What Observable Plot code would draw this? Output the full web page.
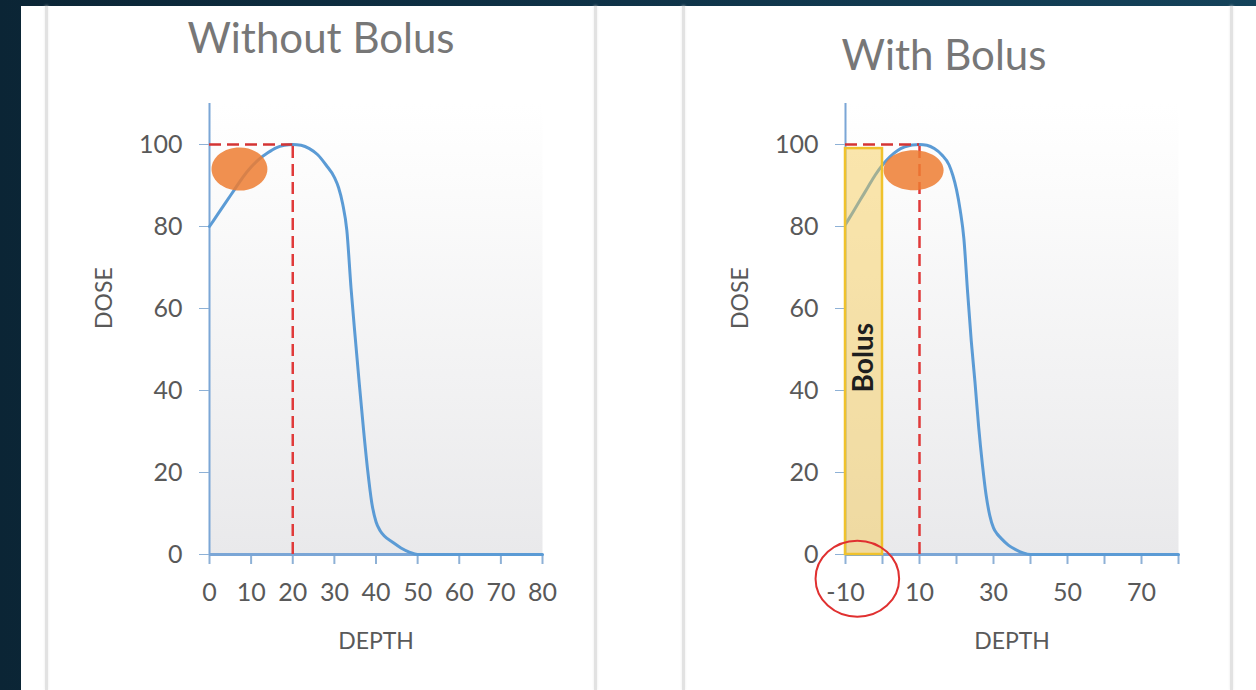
<!DOCTYPE html>
<html><head><meta charset="utf-8">
<script src="https://cdn.jsdelivr.net/npm/d3@7"></script>
<script src="https://cdn.jsdelivr.net/npm/@observablehq/plot@0.6"></script>
<style>
html,body{margin:0;padding:0;}
body{width:1256px;height:690px;overflow:hidden;position:relative;background:linear-gradient(90deg,#0b2535 0%,#0f3348 50%,#14425a 100%);font-family:Lato,"Open Sans",sans-serif;}
#sheet{position:absolute;left:21px;top:6px;right:0;bottom:0;background:#fff;}
.sep{position:absolute;top:6px;bottom:0;width:3px;background:#e2e2e2;box-shadow:0 0 3px #ececec;z-index:3;}
.panel{position:absolute;top:0;z-index:2;}
</style></head><body>
<div id="sheet"></div>
<div id="left" class="panel" style="left:46px"></div>
<div id="right" class="panel" style="left:683px"></div>
<div class="sep" style="left:45px"></div>
<div class="sep" style="left:594px"></div>
<div class="sep" style="left:682px"></div>
<div class="sep" style="left:1230px"></div>
<script>
// ---- data ----
const titles = ["Without Bolus", "With Bolus"];
const xAxisLabel = "DEPTH";
const yAxisLabel = "DOSE";
const doseTicks = [0, 20, 40, 60, 80, 100];
const leftDepthTicks = [0, 10, 20, 30, 40, 50, 60, 70, 80];
const rightDepthTicks = [-10, 0, 10, 20, 30, 40, 50, 60, 70, 80];
const rightDepthLabels = [-10, 10, 30, 50, 70];

const leftDepth = [0, 2, 4, 6, 8, 10, 12, 14, 16, 18, 20, 22, 24, 26, 28, 30, 31, 32, 33, 34, 35, 36, 37, 38, 39, 40, 41, 42, 44, 46, 48, 50, 60, 70, 80];
const leftDose  = [80, 83, 86, 89, 92, 94.5, 96.5, 98, 99.2, 99.8, 100, 99.8, 99, 97.5, 95, 92, 89.5, 85.5, 79, 65, 53, 41.5, 30.5, 20.5, 12.5, 8, 5.8, 4.5, 3, 1.6, 0.6, 0, 0, 0, 0];

const rightDepth = [-10, -8, -6, -4, -2, 0, 2, 4, 6, 8, 10, 12, 14, 16, 18, 19, 20, 21, 22, 23, 24, 25, 26, 27, 28, 29, 30, 31, 32, 34, 36, 38, 40, 50, 60, 70, 80];
const rightDose  = [80.5, 83.5, 86.5, 89.5, 92.5, 95, 97, 98.5, 99.4, 99.9, 100, 99.8, 99, 97.5, 95, 92.5, 89, 84, 77, 64, 52, 42, 31, 22, 14.5, 9.5, 6.5, 5, 4, 2.3, 1.2, 0.4, 0, 0, 0, 0, 0];

const peakDepth = [20, 10];          // depth of maximum dose
const peakDose = [100, 100];
const hotspotDepth = [7.2, 8.4];     // orange highlight
const hotspotDose = [94, 93.7];
const bolusFrom = [-10], bolusTo = [0], bolusTop = [99];
const bolusLabel = ["Bolus"], bolusLabelDepth = [-5], bolusLabelDose = [48];
const surfaceDepth = [-6.8], surfaceDose = [-5.9];  // red circle

// ---- helpers ----
function ellipseSymbol(aspect) {
  return {
    draw(ctx, size) {
      const r = Math.sqrt(size / Math.PI), a = r * aspect, b = r, k = 0.5522847;
      ctx.moveTo(a, 0);
      ctx.bezierCurveTo(a, b * k, a * k, b, 0, b);
      ctx.bezierCurveTo(-a * k, b, -a, b * k, -a, 0);
      ctx.bezierCurveTo(-a, -b * k, -a * k, -b, 0, -b);
      ctx.bezierCurveTo(a * k, -b, a, -b * k, a, 0);
      ctx.closePath();
    }
  };
}
const axisColor = "#7ba6d6", tickColor = "#8eb1d6", labelColor = "#595959";

function chart(i, {depth, dose, xDomain, xTicks, xLabels, width, marginLeft, marginRight, titleDx, titleDy, hotR, hotAspect, extra = []}) {
  const pts = depth.map((d, j) => ({depth: d, dose: dose[j]}));
  const peak = [{depth: peakDepth[i], dose: peakDose[i]}];
  const hot = [{depth: hotspotDepth[i], dose: hotspotDose[i]}];
  const gid = "bg" + i;
  const svg = Plot.plot({
    width, height: 690,
    marginTop: 103, marginBottom: 136, marginLeft, marginRight,
    x: {domain: xDomain, label: null},
    y: {domain: [0, 110], label: null},
    style: {fontFamily: "Lato, 'Open Sans', sans-serif", background: "transparent", overflow: "visible", maxWidth: "none"},
    marks: [
      Plot.frame({fill: `url(#${gid})`, stroke: "none"}),
      Plot.ruleX([xDomain[0]], {y1: 0, y2: 110, stroke: axisColor, strokeWidth: 2}),
      Plot.axisY({ticks: doseTicks, label: null, tickSize: 10, tickPadding: 17, stroke: tickColor, fill: labelColor, fontSize: 25, tickFormat: d => String(d)}),
      Plot.axisX({ticks: xTicks, label: null, tickSize: 10, tickPadding: 19, stroke: tickColor, strokeWidth: 2, fill: labelColor, fontSize: 25, tickFormat: d => xLabels.includes(d) ? String(d) : ""}),
      Plot.ruleY([0], {x1: xDomain[0], x2: xDomain[1], stroke: axisColor, strokeWidth: 3}),
      Plot.line(pts, {x: "depth", y: "dose", stroke: "#5b9bd5", strokeWidth: 3, curve: "monotone-x"}),
      Plot.ruleY(peak, {y: "dose", x1: xDomain[0], x2: "depth", stroke: "#d43434", strokeWidth: 2.5, strokeDasharray: "12,6"}),
      Plot.ruleX(peak, {x: "depth", y1: 0, y2: "dose", stroke: "#e03a3a", strokeWidth: 2.5, strokeDasharray: "12,6"}),
      Plot.dot(hot, {x: "depth", y: "dose", r: hotR, symbol: ellipseSymbol(hotAspect), fill: "#ed7d31", fillOpacity: 0.85, stroke: "none"}),
      ...extra,
      Plot.text([titles[i]], {frameAnchor: "top", dx: titleDx, dy: titleDy, fontSize: 42, fill: "#777777", lineAnchor: "middle"}),
      Plot.text([yAxisLabel], {frameAnchor: "left", dx: -105, rotate: -90, fontSize: 23, fill: labelColor, lineAnchor: "middle"}),
      Plot.text([xAxisLabel], {frameAnchor: "bottom", dy: 87, fontSize: 23, fill: labelColor, lineAnchor: "middle"})
    ]
  });
  d3.select(svg).insert("defs", ":first-child").html(
    `<linearGradient id="${gid}" x1="0" y1="0" x2="0" y2="1">
       <stop offset="0" stop-color="#ffffff"/>
       <stop offset="0.2" stop-color="#fbfbfb"/>
       <stop offset="1" stop-color="#e9e9eb"/>
     </linearGradient>`);
  return svg;
}

document.getElementById("left").appendChild(chart(0, {
  depth: leftDepth, dose: leftDose, xDomain: [0, 80], xTicks: leftDepthTicks, xLabels: leftDepthTicks,
  width: 549, marginLeft: 163, marginRight: 53, titleDx: -55, titleDy: -64, hotR: 21.5, hotAspect: 1.3
}));

const bolus = bolusFrom.map((d, j) => ({from: d, to: bolusTo[j], top: bolusTop[j]}));
const bolusText = bolusLabel.map((t, j) => ({t, depth: bolusLabelDepth[j], dose: bolusLabelDose[j]}));
const surface = surfaceDepth.map((d, j) => ({depth: d, dose: surfaceDose[j]}));

document.getElementById("right").appendChild(chart(1, {
  depth: rightDepth, dose: rightDose, xDomain: [-10, 80], xTicks: rightDepthTicks, xLabels: rightDepthLabels,
  width: 548, marginLeft: 162, marginRight: 53, titleDx: -68, titleDy: -47, hotR: 20, hotAspect: 1.5,
  extra: [
    Plot.rectY(bolus, {x1: "from", x2: "to", y1: 0, y2: "top", fill: "#f6c84a", fillOpacity: 0.45, stroke: "#f0c22c", strokeWidth: 2.5}),
    Plot.text(bolusText, {x: "depth", y: "dose", text: "t", rotate: -90, fontSize: 28, fontWeight: "bold", fill: "#1e1e1e"}),
    Plot.dot(surface, {x: "depth", y: "dose", r: 38, symbol: ellipseSymbol(1.1), fill: "none", stroke: "#e03030", strokeWidth: 2})
  ]
}));
</script>
</body></html>
